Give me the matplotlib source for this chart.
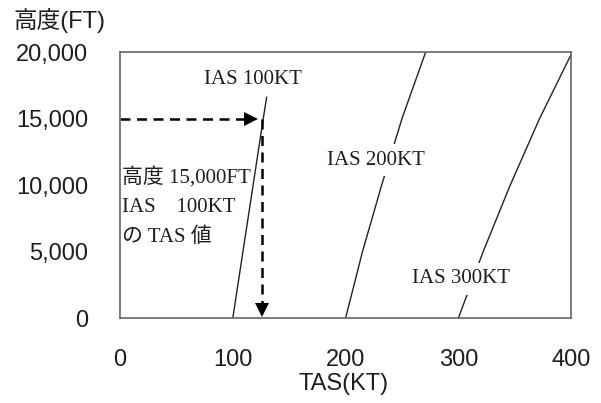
import matplotlib
matplotlib.use("Agg")
import matplotlib.pyplot as plt

# altitude (ft) vs true airspeed (kt) for three indicated airspeeds
alt = [0, 5000, 10000, 15000, 20000]
alt_100 = [0, 5000, 10000, 15000, 16600]
tas_100 = [100, 109, 118, 127, 130]
tas_200 = [200, 215, 232, 250, 271]
tas_300 = [300, 322, 346, 372, 401]

# worked example: 15,000 ft at IAS 100 kt
q_alt = 15000
q_tas = 126

x_ticks = [0, 100, 200, 300, 400]
y_ticks = [0, 5000, 10000, 15000, 20000]
y_labels = ["0", "5,000", "10,000", "15,000", "20,000"]

sans = ["Liberation Sans", "Noto Sans CJK JP"]
serif = ["Liberation Serif", "Noto Sans CJK JP"]
txt = "#1e1e1e"

fig = plt.figure(figsize=(6.01, 4.03), dpi=100)
ax = fig.add_axes([0.1997, 0.2109, 0.7507, 0.6600])

line_kw = dict(color="#222222", lw=1.0)
ax.plot(tas_100, alt_100, **line_kw)
ax.plot(tas_200, alt, **line_kw)
ax.plot(tas_300, alt, **line_kw)

# dashed reading arrows
dash_kw = dict(color="black", lw=1.8, linestyle=(0, (4, 2.6)))
ax.plot([0, q_tas - 12], [q_alt, q_alt], **dash_kw)
ax.plot([q_tas - 10], [q_alt], marker=">", color="black", ms=10, mew=0)
ax.plot([q_tas, q_tas], [q_alt, 1100], **dash_kw)
ax.plot([q_tas], [600], marker="v", color="black", ms=10, mew=0)

box = dict(facecolor="white", edgecolor="none", pad=5)
ax.text(118, 17900, "IAS 100KT", family=serif, fontsize=15, color=txt,
        ha="center", va="center")
ax.text(227, 11880, "IAS 200KT", family=serif, fontsize=15, color=txt,
        ha="center", va="center", bbox=box)
ax.text(302, 2940, "IAS 300KT", family=serif, fontsize=15, color=txt,
        ha="center", va="center", bbox=box)
ax.text(2, 11400, "高度 15,000FT\nIAS　100KT\nの TAS 値", family=serif,
        fontsize=15, color=txt, ha="left", va="top", linespacing=1.75)

ax.set_xlim(0, 400)
ax.set_ylim(0, 20000)
ax.set_xticks(x_ticks)
ax.set_xticklabels([str(v) for v in x_ticks], family=sans, fontsize=17, color=txt)
ax.set_yticks(y_ticks)
ax.set_yticklabels(y_labels, family=sans, fontsize=17, color=txt)
ax.tick_params(length=0)
ax.tick_params(axis="x", pad=22)
ax.tick_params(axis="y", pad=23)
for s in ax.spines.values():
    s.set_color("#666666")
    s.set_linewidth(1.2)

fig.text(0.022, 0.948, "高度(FT)", family=sans, fontsize=17, color=txt,
         ha="left", va="center")
fig.text(0.571, 0.048, "TAS(KT)", family=sans, fontsize=17, color=txt,
         ha="center", va="center")

fig.savefig("out.png", dpi=100)
